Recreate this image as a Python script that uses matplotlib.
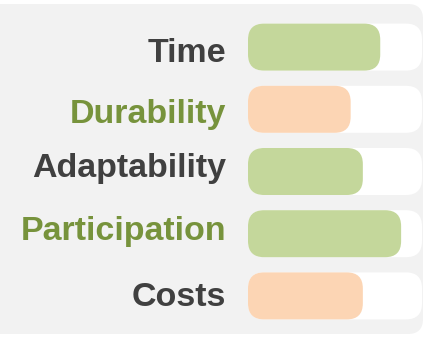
import matplotlib.pyplot as plt
from matplotlib.patches import FancyBboxPatch

categories = ['Time', 'Durability', 'Adaptability', 'Participation', 'Costs']
values = [76, 59, 66, 88, 66]
max_value = 100
bar_colors = ['#c4d79b', '#fcd5b4', '#c4d79b', '#c4d79b', '#fcd5b4']
label_colors = ['#404040', '#77933c', '#404040', '#77933c', '#404040']

W, H = 424, 339
fig = plt.figure(figsize=(W / 100, H / 100), dpi=100)
fig.patch.set_facecolor('white')

# grey panel behind everything (pixel coords)
panel = FancyBboxPatch((-30, 5), 453, 330, boxstyle='round,pad=0,rounding_size=15',
                       transform=None, facecolor='#f2f2f2', edgecolor='none', zorder=-1)
fig.patches.append(panel)

ax_left, ax_right = 248, 422
ax_top, ax_bottom = 16, 327
ax = fig.add_axes([ax_left / W, 1 - ax_bottom / H, (ax_right - ax_left) / W, (ax_bottom - ax_top) / H])
ax.set_xlim(0, max_value)
ax.set_ylim(len(categories) - 0.5, -0.5)
ax.axis('off')

# keep the corner round in pixel terms
px_x = max_value / (ax_right - ax_left)
px_y = len(categories) / (ax_bottom - ax_top)
radius = 16 * px_x
aspect = px_y / px_x
bar_h = 47 * px_y
# label baseline below row centre, px (labels are not quite evenly spaced)
label_dy = [15, 13.5, 5.5, 6, 10]

for i, (cat, v) in enumerate(zip(categories, values)):
    track = FancyBboxPatch((0, i - bar_h / 2), max_value, bar_h,
                           boxstyle=f'round,pad=0,rounding_size={radius}',
                           mutation_aspect=aspect, facecolor='white', edgecolor='none')
    ax.add_patch(track)
    bar = FancyBboxPatch((0, i - bar_h / 2), v, bar_h,
                         boxstyle=f'round,pad=0,rounding_size={radius}',
                         mutation_aspect=aspect, facecolor=bar_colors[i], edgecolor='none')
    ax.add_patch(bar)
    ax.text(-12.4, i + label_dy[i] * px_y, cat, ha='right', va='baseline', fontsize=24.5,
            fontweight='bold', family='Liberation Sans', color=label_colors[i], clip_on=False)

fig.savefig('out.png', dpi=100, facecolor=fig.get_facecolor())
